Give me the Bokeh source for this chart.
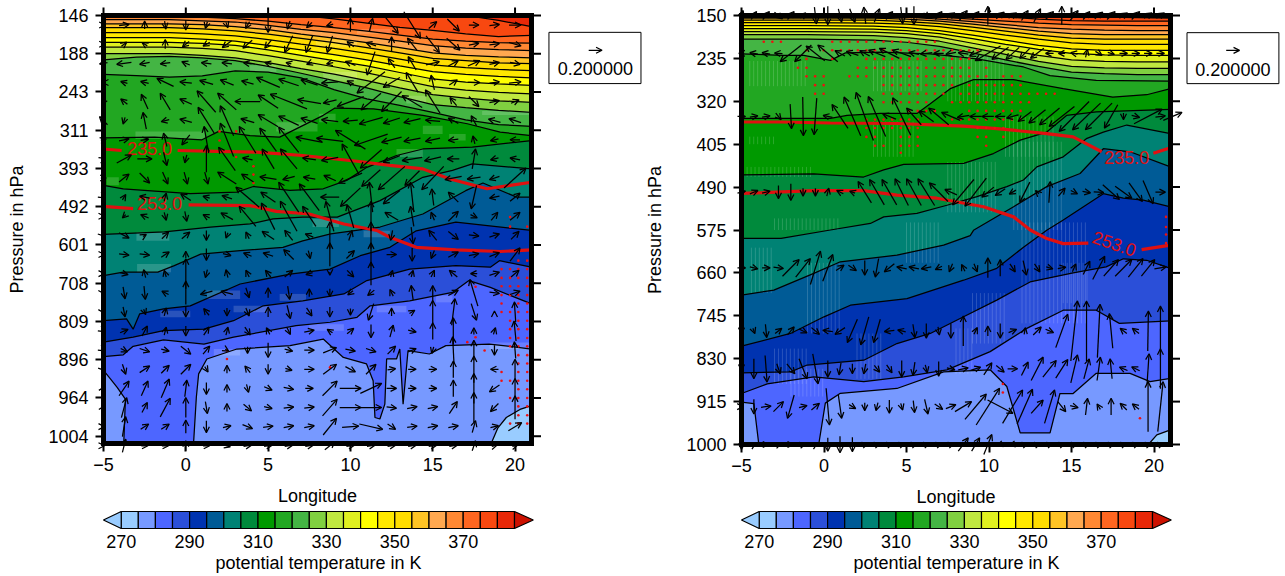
from bokeh.plotting import figure
from bokeh.models import Range1d, LinearAxis, FixedTicker, Arrow, OpenHead, ColumnDataSource
from bokeh.layouts import column, row
from bokeh.core.properties import value
from bokeh.embed import file_html
from bokeh.resources import INLINE

FONT = "Liberation Sans"

# ---------------- colour scale ----------------
THETA_LEVELS = list(range(270, 386, 5))
THETA_COLORS = ["#99CCFF", "#7799FF", "#4D66FF", "#2B4FD8", "#0033B0", "#005B96", "#008274", "#008A3C",
                "#009900", "#22A722", "#44B544", "#80D040", "#C0E840", "#E0F020", "#FFFF00", "#FFE800",
                "#FFDD00", "#FFC425", "#FFA850", "#FF8833", "#FF6620", "#F84810", "#E82808"]
LOW_COLOR = "#99CCFF"
HIGH_COLOR = "#CC1100"
CB_TICKS = [270, 290, 310, 330, 350, 370]

# ---------------- panel axes ----------------
P1_LEVELS = list(range(12))
P1_LABELS = ["146", "188", "243", "311", "393", "492", "601", "708", "809", "896", "964", "1004"]
P2_PTICKS = [150, 235, 320, 405, 490, 575, 660, 745, 830, 915, 1000]
LON_TICKS = [-5, 0, 5, 10, 15, 20]
LON_MIN, LON_MAX = -5, 21
P1_TOP, P1_BOTTOM = 0, 11.19
P2_TOP, P2_BOTTOM = 150, 1000

# ---------------- panel 1 contours ----------------
P1_LON = [-5, -3, -1, 1, 3, 5, 7, 9, 11, 13, 15, 17, 19, 21]
p1_380 = [-1, -1, -1, -1, -1, -1, -0.9, -0.7, -0.45, -0.2, -0.13, 0.0, 0.13, 0.29]
p1_375 = [-0.5, -0.5, -0.5, -0.4, -0.35, -0.25, -0.04, 0.09, 0.2, 0.31, 0.39, 0.48, 0.55, 0.52]
p1_370 = [0.03, 0.03, 0.03, 0.04, 0.08, 0.15, 0.24, 0.32, 0.41, 0.51, 0.62, 0.67, 0.71, 0.72]
p1_365 = [0.11, 0.11, 0.11, 0.14, 0.17, 0.26, 0.36, 0.45, 0.56, 0.67, 0.79, 0.85, 0.89, 0.92]
p1_360 = [0.22, 0.22, 0.22, 0.24, 0.29, 0.37, 0.49, 0.59, 0.71, 0.84, 0.98, 1.04, 1.08, 1.11]
p1_355 = [0.32, 0.32, 0.32, 0.35, 0.4, 0.49, 0.6, 0.71, 0.84, 0.98, 1.12, 1.18, 1.24, 1.26]
p1_350 = [0.45, 0.45, 0.45, 0.48, 0.53, 0.63, 0.75, 0.86, 0.99, 1.14, 1.29, 1.36, 1.41, 1.44]
p1_345 = [0.58, 0.58, 0.58, 0.62, 0.67, 0.78, 0.9, 1.02, 1.16, 1.32, 1.47, 1.54, 1.59, 1.63]
p1_340 = [0.7, 0.7, 0.7, 0.73, 0.78, 0.9, 1.04, 1.18, 1.32, 1.49, 1.66, 1.74, 1.79, 1.83]
p1_335 = [0.83, 0.83, 0.83, 0.86, 0.92, 1.05, 1.19, 1.34, 1.5, 1.68, 1.86, 1.95, 2.01, 2.05]
p1_330 = [1.0, 1.0, 1.0, 1.04, 1.11, 1.23, 1.39, 1.53, 1.7, 1.89, 2.07, 2.16, 2.23, 2.27]
p1_325 = [1.16, 1.09, 1.07, 1.11, 1.18, 1.33, 1.51, 1.7, 1.89, 2.12, 2.33, 2.41, 2.48, 2.53]
p1_320 = [1.54, 1.57, 1.61, 1.58, 1.45, 1.48, 1.63, 1.94, 2.18, 2.35, 2.53, 2.73, 2.85, 2.9]
p1_315_lon = [-5, -1.9, 0.98, 2.0, 3.9, 5.7, 7.1, 8.35, 9.06, 11.4, 14.4, 17.1, 19.1, 21]
p1_315 = [3.2, 3.18, 3.25, 3.03, 3.14, 3.18, 2.88, 2.61, 2.42, 2.44, 2.61, 2.83, 3.05, 3.14]
p1_310_lon = [-5, -3.8, 0.27, 3.1, 4.1, 6.33, 8.35, 9.77, 11, 12.8, 14.4, 17.4, 21]
p1_310 = [4.44, 4.53, 4.66, 4.62, 4.47, 4.57, 4.53, 4.31, 3.97, 3.66, 3.49, 3.44, 3.27]
p1_305_lon = [-5, -1.3, 1.5, 3.9, 5.3, 7.1, 9.2, 11.8, 14.4, 16.2, 17.4, 21]
p1_305 = [5.72, 5.66, 5.53, 5.45, 5.32, 5.27, 5.27, 4.84, 4.23, 4.05, 3.88, 4.01]
p1_300_lon = [-5, -3.8, -1.7, -0.7, 0.9, 3.3, 5.9, 7.1, 8.8, 11.8, 14.4, 17, 18.05, 20.1, 21]
p1_300 = [6.8, 6.71, 6.71, 6.54, 6.24, 6.15, 6.06, 5.89, 5.71, 5.53, 5.19, 4.58, 4.38, 4.75, 4.75]
p1_295_lon = [-5, -3.6, -3.2, -2.8, -1.35, 0.27, 3.3, 6.33, 8.76, 10.6, 12.4, 14, 16.4, 21]
p1_295 = [7.98, 7.93, 8.2, 7.8, 7.67, 7.59, 7.02, 6.76, 6.63, 6.28, 6.06, 5.63, 5.4, 5.62]
p1_290_lon = [-5, -3.2, -1.35, 1.1, 2.9, 4.7, 7.1, 9.6, 11, 13.6, 16.4, 18.5, 19.05, 21]
p1_290 = [8.54, 8.41, 8.24, 8.2, 7.98, 7.59, 7.46, 7.28, 6.93, 6.63, 6.54, 6.58, 6.41, 6.58]
p1_285_lon = [-5, -3.8, -3.2, -1.35, 1.1, 2.9, 6.7, 8.76, 10.4, 11.2, 13.6, 16.2, 17.2, 18.5, 21]
p1_285 = [8.92, 8.87, 8.65, 8.48, 8.59, 8.41, 8.11, 8.02, 7.89, 7.59, 7.46, 7.24, 6.93, 7.11, 7.54]
p1_280_lon = [0.47, 0.64, 0.78, 1.28, 3.1, 6.33, 8.35, 9.57, 10.98, 11.38, 11.49, 11.79, 12.09, 12.2,
              12.8, 13.0, 13.2, 13.5, 14.8, 15.8, 18.45, 21]
p1_280 = [11.19, 9.98, 9.37, 8.98, 8.72, 8.63, 8.46, 8.94, 9.11, 9.55, 10.51, 10.55, 10.16, 8.98,
          8.98, 8.72, 10.16, 8.76, 8.85, 8.63, 8.59, 8.72]
p1_280b_lon = [-5, -4.58, -4.17, -3.67, -3.77]
p1_280b = [9.28, 9.5, 9.72, 10.03, 11.19]
p1_275_lon = [18.55, 18.96, 19.47, 20.3, 21]
p1_275 = [11.19, 10.78, 10.51, 10.3, 10.2]

# pale blocky patches of the coarse grid, panel 1: lon start, lon end, upper level, lower level
P1_PATCHES = [(-3.06, 1.18, 3.03, 3.23), (5.5, 8, 2.79, 3.03), (8.1, 9.1, 2.57, 2.79), (12.8, 14.4, 3.49, 3.7),
              (16, 17, 3.1, 3.27), (-4.8, -4.07, 4.23, 4.44), (7.7, 9.3, 5.32, 5.53), (3.9, 5.5, 1.3, 1.48),
              (8.35, 10.4, 1.48, 1.7), (13.4, 14.6, 2.1, 2.3), (14.4, 15.6, 2.88, 3.1), (18, 20.9, 2.5, 2.6),
              (7.9, 10.4, 0.65, 0.83), (10.4, 12.4, 0.35, 0.48), (-2.96, -0.9, 6.5, 6.71), (1.28, 3.3, 7.19, 7.41),
              (5.7, 7.3, 7.28, 7.46), (-1.55, 0.27, 7.72, 7.89), (2.9, 5, 7.59, 7.76), (11.6, 13.4, 7.59, 7.76),
              (15.2, 16.2, 7.32, 7.5), (7.5, 9.6, 8.07, 8.24), (18.45, 20.9, 8.55, 8.72), (1.7, 3.3, 8.72, 8.89),
              (10.8, 12.4, 5.63, 5.8), (-3, -1, 5.67, 5.89)]

# red isentropes, panel 1
p1_r235a_lon, p1_r235a = [-5, -3.9], [3.49, 3.53]
p1_r235b_lon = [-0.5, 1.9, 4.3, 7.1, 10.4, 12.4, 14.4, 16.0, 18.3, 19.7, 21]
p1_r235b = [3.53, 3.55, 3.57, 3.66, 3.81, 3.92, 4.01, 4.27, 4.53, 4.44, 4.36]
p1_r253a_lon, p1_r253a = [-5, -3.2], [4.99, 5.05]
p1_r253b_lon = [0.17, 3.9, 5.5, 7.5, 9.6, 11.6, 12.4, 14, 16.4, 19.1, 21]
p1_r253b = [4.95, 4.97, 5.12, 5.19, 5.45, 5.62, 5.8, 6.06, 6.13, 6.17, 6.13]

# significance dots, panel 1
p1_sig_lon = [2.05, 3.06, 2.05, 3.06, 4.11, 4.11, 4.11, 19.7, 19.7, 20.74, 17.6, 17.6, 17.1, 18.15, 2.5, 2.5, 8.76]
p1_sig_lev = [3.03, 3.03, 3.27, 3.7, 3.94, 4.16, 4.38, 5.27, 5.52, 5.52, 7.09, 8.41, 8.54, 8.76, 8.76, 8.98, 9.2]
P1_SIG_COLS = [19.18, 19.7, 20.2, 20.74]
P1_SIG_ROWS = [6.41, 6.63, 6.86, 7.08, 7.31, 7.53, 7.75, 7.98, 8.2, 8.43, 8.65, 8.88, 9.1, 9.32, 9.55, 9.77, 10.0, 10.22, 10.45, 10.67]
P1_SIG_MASK = ["..XX", "XXXX", "XXXX", "XXXX", "XXXX", "X.XX", "XXXX", ".XXX", ".XXX", ".XXX", ".XXX",
               "..XX", "..XX", "X.XX", "XXXX", "..XX", ".XXX", "..XX", "..XX", ".XXX"]

# wind vectors panel 1 (hundredths of the unit; v positive up the page)
P1_VEC_LON = [-5, -3.75, -2.5, -1.25, 0, 1.25, 2.5, 3.75, 5, 6.25, 7.5, 8.75, 10, 11.25, 12.5, 13.75, 15, 16.25, 17.5, 18.75, 20]
P1_VEC_LEV = [0.25, 0.75, 1.25, 1.75, 2.25, 2.75, 3.25, 3.75, 4.25, 4.75, 5.25, 5.75, 6.25, 6.75, 7.25, 7.75, 8.25, 8.75, 9.25, 9.75, 10.25, 10.75, 11.25]
P1_U = [
 [5,15,0,2,0,-3,3,-6,0,-4,-8,-10,0,5,20,25,12,18,15,15,18],
 [5,8,-8,0,-10,-10,-14,-14,-10,-12,-10,-8,-10,-15,0,-14,20,20,15,15,18],
 [-12,-22,-15,-15,-12,-15,-15,-12,-10,-8,-8,-10,-15,-12,-10,-12,20,15,18,15,15],
 [-3,-10,-12,-25,-18,-20,-20,-18,-35,-30,-25,-25,-10,-42,-25,-18,-5,12,18,15,18],
 [-5,-10,-10,-15,-18,-28,-28,-38,-30,-55,-35,-20,-40,-30,-30,-30,-22,-10,15,15,12],
 [-12,-3,-5,-12,-18,-25,-20,-20,-30,-30,-25,-25,-22,-35,-25,-25,-22,-15,-8,-18,-18],
 [8,15,12,-5,-12,-7,-20,-25,-25,-30,-40,-40,-45,-50,-30,-25,-22,-15,-3,-12,-15],
 [5,22,22,5,-3,0,-25,-15,-18,-25,-20,-25,-25,-32,-25,-30,-25,-18,5,-12,-15],
 [8,15,15,8,5,5,-28,-18,-25,-18,-18,-18,-35,-28,-40,-22,-33,-25,-20,-15,33],
 [3,5,-15,3,-15,-10,-15,-35,-22,-30,-30,-28,-30,-5,-25,-5,-3,-15,-8,-15,15],
 [3,-5,-12,3,3,-10,-18,-25,-20,-25,-20,-12,-10,0,-20,-5,-5,15,10,10,15],
 [2,15,5,10,12,0,-3,-5,-18,-12,-12,0,5,0,-3,3,-12,15,15,15,12],
 [3,15,15,12,0,0,12,-12,-15,-15,3,0,12,0,15,0,-5,15,15,15,15],
 [3,12,-3,-3,0,-3,-3,-5,-8,12,-10,0,10,0,3,3,5,-12,-10,15,12],
 [2,3,2,-10,0,-18,-18,5,0,3,0,0,-8,-10,-5,-3,0,15,-12,15,15],
 [2,3,3,3,0,-8,0,5,0,5,8,0,0,-8,0,8,0,5,8,0,-2],
 [3,12,8,3,0,8,3,8,-5,5,15,-8,10,0,5,12,0,0,0,3,-3],
 [3,10,15,12,15,10,5,0,0,12,15,20,15,15,12,12,-3,-2,0,0,-2],
 [3,5,15,12,15,5,0,-8,0,10,15,20,15,15,12,12,12,0,0,-12,0],
 [3,15,10,12,3,0,0,3,12,15,12,22,32,32,15,12,12,0,0,-15,0],
 [3,8,8,15,0,3,0,12,12,15,15,22,32,32,15,15,15,12,0,-12,0],
 [3,5,12,12,0,0,12,15,15,15,15,20,25,35,12,15,15,15,5,12,20],
 [3,5,10,10,0,10,10,12,12,12,12,15,12,12,12,12,12,12,5,8,8],
]
P1_V = [
 [0,2,12,-12,-15,-10,-8,-10,-22,-12,-8,-3,20,20,-25,-40,10,-18,0,2,0],
 [0,6,5,14,-8,-6,-10,-12,-12,-25,-25,-25,8,5,22,18,-25,-18,3,2,-5],
 [-2,-3,-3,-2,5,2,2,2,3,2,-3,-2,6,-35,14,20,5,8,8,3,-3],
 [0,3,3,12,2,6,8,5,15,10,8,-2,5,-32,-15,30,22,8,0,2,2],
 [-10,8,22,25,8,32,25,0,20,22,6,-5,-15,-25,-30,18,35,12,-15,3,5],
 [12,-10,25,-3,5,40,45,6,18,14,8,3,-2,-10,-8,-6,2,8,15,5,6],
 [2,3,2,20,-15,40,50,40,35,38,8,5,28,-17,-8,-5,-5,-2,12,-3,0],
 [2,12,0,-20,-12,40,35,3,30,30,3,-5,45,-28,-10,-5,-6,0,30,-3,3],
 [0,12,-15,-18,-18,-18,18,12,4,-5,3,8,-15,-25,-35,-22,-35,-5,-3,-5,30],
 [-2,8,3,12,10,3,5,30,15,45,40,0,-28,45,-20,45,25,15,-35,-3,12],
 [0,-5,5,-12,-15,5,10,30,40,45,30,45,35,45,12,30,12,15,-5,12,12],
 [-2,-8,3,10,10,-15,-8,10,12,15,5,40,15,40,-15,-25,15,-12,-2,5,12],
 [0,-2,-2,8,10,-18,-3,5,5,15,-12,35,12,35,0,-20,-12,8,3,6,20],
 [0,-3,12,10,45,-12,12,10,10,10,-3,-5,-10,35,10,10,10,10,0,5,10],
 [-3,-18,-20,5,35,-5,5,-15,15,-20,12,-12,-6,-8,10,22,22,8,40,-2,5],
 [-3,-15,-8,12,-15,10,-12,-12,15,-20,-12,-15,-10,-25,12,5,35,40,-25,3,30],
 [-2,5,15,12,-15,12,12,-12,10,-10,3,5,8,-20,18,-3,25,40,10,10,30],
 [-2,-5,-5,-3,-12,12,-3,-10,-22,-3,0,8,-3,-5,12,5,-10,40,30,-15,25],
 [-3,-15,10,12,15,-8,12,10,-15,-3,0,15,-8,15,2,0,0,25,40,0,30],
 [5,22,22,28,25,-18,12,-12,-5,-3,0,22,0,15,0,0,0,25,45,-10,30],
 [5,30,15,28,30,-18,12,-10,-3,2,2,25,0,0,-2,3,3,18,45,-12,35],
 [0,30,8,8,20,-18,3,-6,2,3,3,25,2,-8,-8,2,3,3,18,3,12],
 [0,20,0,0,15,0,-3,2,2,2,2,12,2,2,2,2,2,2,15,2,2],
]

# ---------------- panel 2 contours (hPa) ----------------
P2_LON = [-5, -1, 3, 5, 7, 9, 11, 13, 15, 17, 19, 21]
p2_380 = [140, 140, 140, 140, 141, 143, 145, 148, 151, 153, 154, 155]
p2_375 = [143, 143, 144, 145, 147, 149, 153, 157, 160, 161, 161, 161]
p2_370 = [149, 149, 149, 151, 153, 157, 161, 165, 168, 169, 170, 170]
p2_365 = [151, 151, 152, 153, 157, 162, 168, 174, 177, 179, 180, 180]
p2_360 = [155, 155, 155, 157, 161, 167, 174, 181, 186, 188, 188, 188]
p2_355 = [159, 159, 159, 162, 166, 173, 181, 189, 195, 197, 197, 197]
p2_350 = [164, 164, 165, 167, 172, 180, 189, 197, 204, 207, 207, 207]
p2_345 = [170, 170, 171, 174, 180, 189, 199, 209, 216, 219, 219, 219]
p2_340 = [176, 176, 177, 180, 186, 196, 207, 217, 225, 228, 229, 229]
p2_335 = [182, 182, 183, 186, 193, 205, 217, 229, 238, 241, 242, 242]
p2_330 = [188, 188, 190, 194, 201, 214, 227, 241, 251, 254, 255, 255]
p2_325 = [197, 197, 199, 203, 211, 224, 238, 251, 262, 265, 267, 267]
p2_320_lon = [-5, -2.44, -1.23, 0.39, 1.3, 3.42, 6.44, 9.27, 12.09, 13.7, 16.5, 21]
p2_320 = [226, 229, 229, 239, 224, 222.5, 226, 236, 252, 269, 278.5, 280]
p2_315_lon = [-5, -1.63, 0.39, 1.4, 3.42, 5.63, 6.44, 7.65, 9.06, 11.47, 14.5, 17.5, 19.56, 21]
p2_315 = [354, 354, 354, 348, 344, 344, 325, 295, 277, 277, 295, 311.5, 307, 295]
p2_310_lon = [-5, -0.62, 2.4, 3.62, 4.83, 8.46, 10.27, 11.89, 13.5, 14.7, 16.5, 21]
p2_310 = [466, 464, 470, 456, 445, 443, 423.5, 397, 381, 348, 341, 336]
p2_305_lon = [-5, -2.6, 0.39, 2.81, 3.62, 5.63, 7.45, 9.27, 11.08, 12.09, 12.9, 14.5, 15.9, 16.93, 18.35, 21]
p2_305 = [591.5, 591.5, 575, 562, 549, 542, 526, 509, 489, 476, 450, 430, 394, 381, 367, 384]
p2_300_lon = [-5, -3.04, -0.62, 0.99, 4.42, 7.25, 8.86, 9.06, 11.49, 13.5, 15.52, 16.93, 18.55, 21]
p2_300 = [704, 694, 661, 638, 625, 605, 586, 575.6, 529, 489, 463, 414, 420, 450]
p2_295_lon = [-5, -2.03, 0.0, 1.6, 5.03, 8.46, 10.47, 12.09, 13.5, 14.5, 16.93, 18.14, 19.35, 21]
p2_295 = [805, 780, 747, 724, 711, 674.5, 651, 609, 575.6, 555, 503, 512, 516, 529]
p2_290_lon = [-5, -2.03, -1.02, 2.41, 4.42, 6.44, 8.46, 10.47, 12.49, 15.1, 17.1, 18.14, 19.56, 21]
p2_290 = [858, 856, 842.5, 833, 800, 780, 747, 714, 678, 660, 648, 632, 635, 651]
p2_285_lon = [-5, -3.44, -0.62, 2.41, 4.83, 7.45, 10.07, 12.29, 14.5, 16.5, 17.9, 21]
p2_285 = [899, 880, 866, 875.5, 866, 852, 816, 770, 734, 734, 760, 755]
p2_280_lon = [-0.32, 0.08, 0.99, 4.42, 7.25, 10.07, 11.08, 11.89, 13.7, 14.3, 15.1, 16.5, 18.55, 19.76, 21]
p2_280 = [1000, 918, 898.6, 889, 856, 852, 885, 977, 977, 899, 899, 859, 859, 875.5, 869]
p2_280b_lon = [-5, -4.25, -3.95]
p2_280b = [916, 919, 1000]
p2_275_lon = [19.66, 20.17, 21]
p2_275 = [1000, 981, 971]

p2_r235a_lon = [-5, -2.64, 0.39, 4.42, 8.46, 10.47, 13.5, 15.1, 16.83]
p2_r235a = [361, 361, 363, 364, 369, 374, 384, 390.5, 420]
p2_r235b_lon, p2_r235b = [19.96, 21], [423, 412]
p2_r253a_lon = [-5, -3.65, -0.62, 2.4, 4.42, 6.84, 9.67, 11.49, 12.5, 13.5, 14.5, 16.02]
p2_r253a = [502.6, 501, 497, 497, 506, 512, 529, 549, 575, 592, 602, 601]
p2_r253b_lon, p2_r253b = [19.25, 21], [614, 605]

P2_SIG_LON = [-3.65, -3.13, -2.61, -2.09, -1.58, -1.06, -0.54, -0.02, 0.5, 1.02, 1.54, 2.05, 2.57, 3.09, 3.61, 4.13,
              4.65, 5.17, 5.68, 6.2, 6.72, 7.24, 7.76, 8.28, 8.8, 9.31, 9.83, 10.35, 10.87, 11.39, 11.91, 12.43,
              12.94, 13.46, 13.98]
P2_SIG_P = [202, 219, 236, 253.5, 270.6, 288, 305, 322, 339, 356, 373, 390.5, 408, 422]
P2_SIG_MASK = [
 "XXX.....XXXXXXXXXXXXX..............",
 ".....X.XXXXXXXXXXXXXXXXXXX.........",
 ".....X..X...XXXXXXXXXXXXX..........",
 "....XX.....XXXXXXXXXXXXXX.X........",
 ".....XXX..XXX.XXXXXXXXXXXXX.XXX....",
 "......XX......XXXXXXXXX.XXXXXXX....",
 "......XX......XXXXXXXX.XXXXXXXXXXXX",
 "..............XXXXXX..XXXXXXXXXX...",
 ".................XXXX...XXXXXXX....",
 "............XXXXXXX...XXXXXXXXX....",
 "............XXXXXXX......XXXX......",
 "............XX..XXX......XX.X......",
 ".............XX.XXX.......X........",
 "................X..................",
]
p2_sig_lon = [10.84, 10.84, 19.15, 20.73, 20.73, 20.73, 20.73]
p2_sig_p = [880, 897, 948, 549, 569, 584, 601]

# pale vertical striping seen in panel 2: lon start, lon end, top hPa, bottom hPa
P2_STRIPES = [(-4.9, -0.8, 450, 470), (-4.5, -3, 390, 405), (-3, 1, 552, 575), (-4.4, -3, 610, 700), (-1, 1, 640, 780),
              (2, 3.5, 780, 870), (-2, 0, 850, 905), (5, 7, 560, 640), (7.5, 10.5, 440, 540), (11.5, 14.5, 400, 575),
              (12, 16, 560, 760), (14.5, 16, 640, 720), (9, 11, 700, 800), (8, 9, 770, 860), (3, 6, 240, 300),
              (7.5, 11, 230, 320), (11, 14, 350, 430), (-4.5, -1, 240, 290), (3, 5.5, 360, 430), (-3, -1, 810, 880)]
STRIPE_STEP = 0.24

P2_VEC_LON = [-5.0, -4.25, -3.51, -2.76, -2.01, -1.27, -0.52, 0.23, 0.97, 1.72, 2.47, 3.21, 3.96, 4.71, 5.45, 6.2, 6.95,
              7.69, 8.44, 9.19, 9.93, 10.68, 11.43, 12.17, 12.92, 13.67, 14.41, 15.16, 15.91, 16.65, 17.4, 18.15,
              18.89, 19.64, 20.39, 21.13]
P2_VEC_P = [150, 225, 350, 500, 650, 775, 850, 925, 1000]
P2_U = [
 [5,8,10,12,10,8,3,0,5,8,-3,8,10,3,0,8,10,12,12,10,0,12,12,10,10,12,0,12,10,12,12,12,12,12,12],
 [-8,-12,-12,-12,-32,-25,-28,-30,-15,-18,-15,-25,-30,-28,-15,-18,-15,-15,-15,-18,-38,-25,-20,-15,-20,-12,-10,-10,3,10,10,12,12,12,12],
 [12,12,12,8,2,1,-4,-14,-24,-25,-26,-26,-20,-27,-22,-22,-30,-28,-18,-18,-18,-15,-18,-20,-25,-30,-38,-45,-42,-40,-20,0,12,42,15,28],
 [12,12,12,0,0,0,0,3,-10,-8,-20,-22,-22,-20,-22,-25,-28,-18,-32,-32,-18,-15,-10,-15,-5,2,10,10,12,15,25,25,20,15,15],
 [12,12,12,15,25,22,15,15,12,12,0,-5,-15,-15,-15,-15,-10,-5,-5,5,0,0,8,5,8,10,12,5,10,18,22,25,22,20,18],
 [0,3,2,10,10,12,12,-15,-15,-15,-12,-10,-15,-12,3,0,2,0,0,5,0,0,12,2,12,12,18,10,0,4,-5,-10,-10,1,0],
 [0,0,3,5,12,12,8,0,-3,0,-3,8,8,0,-3,3,0,12,15,15,12,12,15,10,18,20,18,10,8,5,-3,-12,-12,3,0],
 [5,0,15,15,-10,12,12,5,5,10,0,-3,0,3,2,5,12,15,25,32,35,38,30,23,18,15,12,12,3,-5,0,-10,-10,0,8],
 [0,5,8,8,8,8,5,0,0,0,10,10,10,10,10,10,10,10,15,12,12,-10,-10,10,10,10,10,10,10,10,10,10,10,10,10],
]
P2_V = [
 [15,12,12,-10,12,8,-25,-28,-20,-20,25,20,12,-25,-28,-8,12,8,15,12,28,10,8,15,20,12,28,15,12,10,12,8,12,8,8],
 [0,2,2,1,-25,-25,22,25,8,6,8,10,15,10,3,-2,0,-3,2,-8,-22,-18,-18,-15,-15,0,0,2,12,-6,-3,0,0,0,0],
 [0,2,2,-10,-37,-58,-55,3,36,58,72,60,8,56,25,16,25,12,-3,0,0,0,-5,-15,-20,-25,-30,-45,-40,-40,-35,-10,-3,22,2,12],
 [3,5,3,-20,-25,-12,-12,12,5,3,32,38,38,40,40,40,28,8,-38,-42,-15,-10,-6,-30,5,32,12,-5,-2,-1,-22,-18,-28,-35,0],
 [0,-3,0,-2,25,28,50,40,8,-8,-22,-28,-12,3,3,-3,-5,-12,10,-12,30,25,-12,-22,-12,-3,2,12,20,35,25,25,28,25,3],
 [-8,-8,-20,8,12,-6,-10,2,-10,-35,-42,-35,-2,3,-20,-22,-12,-22,45,10,15,-22,5,10,12,-5,50,90,90,80,52,8,8,60,75],
 [-5,-30,-40,-15,-15,-30,-45,-25,-18,-15,-15,-10,-12,-25,-20,-12,-22,-3,3,5,18,-10,0,20,35,25,28,42,30,35,30,5,6,45,60],
 [0,-22,2,15,-35,3,10,-55,-35,-6,-12,-12,-20,-10,-18,-22,-8,6,15,38,55,-20,50,52,20,50,-15,-3,25,8,25,10,8,75,75],
 [-15,3,0,3,0,2,3,-20,-25,-22,3,3,3,3,3,3,3,3,20,20,30,-3,-2,3,3,3,3,3,3,3,3,3,3,3,3],
]

REF_VECTOR = 20          # the 0.200000 reference arrow, same units as U/V
REF_LABEL = "0.200000"
PX_PER_UNIT = 0.667      # arrow pixels per vector unit

# canvas geometry, pixels in the photographed picture
P1_CANVAS = (0, 646)
P2_CANVAS = (646, 1281)
MAIN_TOP, MAIN_BOTTOM = 0, 508
CB_BOTTOM = 574
P1_FRAME = (103, 531, 15, 443)
P2_FRAME = (741, 1170, 15, 444)


def band_color(theta):
    return THETA_COLORS[THETA_LEVELS.index(theta - 5)]


def make_panel(canvas, frame, ytop, ybottom, yticks, ylabels=None):
    """Figure whose frame fills the canvas, so that nothing outside the box is clipped; the axes sit at fixed places."""
    fl, fr, ft, fb = frame
    px_x = (fr - fl) / (LON_MAX - LON_MIN)
    px_y = (fb - ft) / (ybottom - ytop)
    x_range = Range1d(LON_MIN - (fl - canvas[0]) / px_x, LON_MIN + (canvas[1] - fl) / px_x)
    y_range = Range1d(ytop + (MAIN_BOTTOM - ft) / px_y, ytop - (ft - MAIN_TOP) / px_y)
    p = figure(width=canvas[1] - canvas[0], height=MAIN_BOTTOM - MAIN_TOP, output_backend="svg",
               toolbar_location=None, x_range=x_range, y_range=y_range, x_axis_location=None, y_axis_location=None,
               min_border=0, min_border_left=0, min_border_right=0, min_border_top=0, min_border_bottom=0)
    p.outline_line_color = None
    p.grid.visible = False
    bottom = LinearAxis(ticker=FixedTicker(ticks=LON_TICKS), fixed_location=ybottom, bounds=(LON_MIN, LON_MAX))
    left = LinearAxis(ticker=FixedTicker(ticks=yticks), fixed_location=LON_MIN, bounds=(min(ytop, ybottom), max(ytop, ybottom)))
    if ylabels:
        left.major_label_overrides = dict(zip(yticks, ylabels))
    for ax in (bottom, left):
        ax.axis_line_color = "black"
        ax.axis_line_width = 2
        ax.major_tick_line_color = "black"
        ax.major_tick_line_width = 2
        ax.major_tick_out = 8
        ax.major_tick_in = 0
        ax.minor_tick_line_color = None
        ax.major_label_text_font = FONT
        ax.major_label_text_font_size = "18px"
        ax.major_label_text_color = "black"
        ax.axis_label_text_font = FONT
        ax.axis_label_text_font_size = "18px"
        ax.axis_label_text_font_style = "normal"
        ax.axis_label_text_color = "black"
    bottom.axis_label = "Longitude"
    left.axis_label = "Pressure in hPa"
    bottom.major_label_standoff = 6
    bottom.axis_label_standoff = 12
    left.major_label_standoff = 7
    left.axis_label_standoff = 18
    p.add_layout(bottom, "below")
    p.add_layout(left, "left")
    p._px = (px_x, px_y)
    p._bounds = (ytop, ybottom)
    p.quad(left=LON_MIN, right=LON_MAX, top=ytop, bottom=ybottom, fill_color=THETA_COLORS[-1], line_color=None)
    return p


def finish_box(p, yticks):
    """The thick box and its top and right ticks."""
    ytop, ybottom = p._bounds
    px_x, px_y = p._px
    p.segment(x0=LON_TICKS, x1=LON_TICKS, y0=[ytop] * len(LON_TICKS), y1=[ytop - 8 / px_y] * len(LON_TICKS),
              line_color="black", line_width=2)
    p.segment(x0=[LON_MAX] * len(yticks), x1=[LON_MAX + 9.5 / px_x] * len(yticks), y0=yticks, y1=yticks,
              line_color="black", line_width=2)
    p.quad(left=LON_MIN, right=LON_MAX, top=ytop, bottom=ybottom, fill_color=None, line_color="black", line_width=5,
           line_join="miter")


def clip_y(p, y):
    ytop, ybottom = p._bounds
    return [min(max(v, ytop), ybottom) for v in y]


def fill_below(p, x, y, color):
    ybottom = p._bounds[1]
    p.patch(list(x) + [x[-1], x[0]], clip_y(p, y) + [ybottom, ybottom], fill_color=color, line_color=None)


def add_sig(p, xs, ys):
    p.scatter(xs, ys, size=2.6, marker="circle", fill_color="#EE1111", line_color=None)


def vectors(p, lons, rows, U, V):
    sx, sy = PX_PER_UNIT / p._px[0], PX_PER_UNIT / p._px[1]
    x0, y0, x1, y1 = [], [], [], []
    for r, us, vs in zip(rows, U, V):
        for lon, u, v in zip(lons, us, vs):
            if u == 0 and v == 0:
                continue
            dx, dy = u * sx / 2, v * sy / 2
            x0.append(lon - dx); x1.append(lon + dx)
            y0.append(r + dy); y1.append(r - dy)
    p.add_layout(Arrow(source=ColumnDataSource(dict(x0=x0, y0=y0, x1=x1, y1=y1)),
                       x_start="x0", y_start="y0", x_end="x1", y_end="y1",
                       line_color="black", line_width=1.25,
                       end=OpenHead(size=6, line_color="black", line_width=1.25)))


def legend(p, l, r, t, b, xc, yarr, ytext):
    p.quad(left=l, right=r, top=t, bottom=b, fill_color="white", line_color="black", line_width=1)
    d = REF_VECTOR * PX_PER_UNIT / p._px[0] / 2
    p.add_layout(Arrow(x_start=xc - d, y_start=yarr, x_end=xc + d, y_end=yarr, line_color="black", line_width=1.25,
                       end=OpenHead(size=6, line_color="black", line_width=1.25)))
    p.text([xc], [ytext], text=[REF_LABEL], text_font=value(FONT), text_font_size="18px", text_align="center",
           text_baseline="middle", text_color="black")


def red_label(p, x, y, s, angle=0):
    p.text([x], [y], text=[s], text_font=value(FONT), text_font_size="18px", text_color="#E01010",
           text_align="center", text_baseline="middle", angle=angle)


# ------------------------------ panel 1 ------------------------------
p1 = make_panel(P1_CANVAS, P1_FRAME, P1_TOP, P1_BOTTOM, P1_LEVELS, P1_LABELS)
p1_lines = [
    (380, P1_LON, p1_380), (375, P1_LON, p1_375), (370, P1_LON, p1_370), (365, P1_LON, p1_365),
    (360, P1_LON, p1_360), (355, P1_LON, p1_355), (350, P1_LON, p1_350), (345, P1_LON, p1_345),
    (340, P1_LON, p1_340), (335, P1_LON, p1_335), (330, P1_LON, p1_330), (325, P1_LON, p1_325),
    (320, P1_LON, p1_320), (315, p1_315_lon, p1_315), (310, p1_310_lon, p1_310), (305, p1_305_lon, p1_305),
    (300, p1_300_lon, p1_300), (295, p1_295_lon, p1_295), (290, p1_290_lon, p1_290), (285, p1_285_lon, p1_285),
    (280, p1_280_lon, p1_280), (275, p1_275_lon, p1_275)]
for th, x, y in p1_lines:
    fill_below(p1, x, y, band_color(th))
fill_below(p1, [-5] + p1_280b_lon, [p1_280b[0]] + p1_280b, band_color(280))
p1.quad(left=[r[0] for r in P1_PATCHES], right=[r[1] for r in P1_PATCHES], top=[r[2] for r in P1_PATCHES],
        bottom=[r[3] for r in P1_PATCHES], fill_color="white", fill_alpha=0.16, line_color=None)
for th, x, y in p1_lines:
    p1.line(x, clip_y(p1, y), line_color="black", line_width=1.25)
p1.line(p1_280b_lon, p1_280b, line_color="black", line_width=1.25)
for x, y in ((p1_r235a_lon, p1_r235a), (p1_r235b_lon, p1_r235b), (p1_r253a_lon, p1_r253a), (p1_r253b_lon, p1_r253b)):
    p1.line(x, y, line_color="#E01010", line_width=3.2)
red_label(p1, -2.2, 3.47, "235.0")
red_label(p1, -1.6, 4.92, "253.0")
sx, sy = [], []
for lev, mask in zip(P1_SIG_ROWS, P1_SIG_MASK):
    for lon, c in zip(P1_SIG_COLS, mask):
        if c == "X":
            sx.append(lon); sy.append(lev)
add_sig(p1, sx + p1_sig_lon, sy + p1_sig_lev)
finish_box(p1, P1_LEVELS)
vectors(p1, P1_VEC_LON, P1_VEC_LEV, P1_U, P1_V)
legend(p1, 22.06, 27.65, 0.44, 1.78, 24.88, 0.91, 1.39)

# ------------------------------ panel 2 ------------------------------
p2 = make_panel(P2_CANVAS, P2_FRAME, P2_TOP, P2_BOTTOM, P2_PTICKS)
p2_lines = [
    (380, P2_LON, p2_380), (375, P2_LON, p2_375), (370, P2_LON, p2_370), (365, P2_LON, p2_365),
    (360, P2_LON, p2_360), (355, P2_LON, p2_355), (350, P2_LON, p2_350), (345, P2_LON, p2_345),
    (340, P2_LON, p2_340), (335, P2_LON, p2_335), (330, P2_LON, p2_330), (325, P2_LON, p2_325),
    (320, p2_320_lon, p2_320), (315, p2_315_lon, p2_315), (310, p2_310_lon, p2_310), (305, p2_305_lon, p2_305),
    (300, p2_300_lon, p2_300), (295, p2_295_lon, p2_295), (290, p2_290_lon, p2_290), (285, p2_285_lon, p2_285),
    (280, p2_280_lon, p2_280), (275, p2_275_lon, p2_275)]
for th, x, y in p2_lines:
    fill_below(p2, x, y, band_color(th))
fill_below(p2, [-5] + p2_280b_lon, [p2_280b[0]] + p2_280b, band_color(280))
st_x, st_t, st_b = [], [], []
for lon0, lon1, pt, pb in P2_STRIPES:
    lon = lon0
    while lon < lon1:
        st_x.append(lon); st_t.append(pt); st_b.append(pb)
        lon += STRIPE_STEP
p2.segment(x0=st_x, x1=st_x, y0=st_t, y1=st_b, line_color="white", line_alpha=0.16, line_width=1)
for th, x, y in p2_lines:
    p2.line(x, clip_y(p2, y), line_color="black", line_width=1.25)
p2.line(p2_280b_lon, p2_280b, line_color="black", line_width=1.25)
for x, y in ((p2_r235a_lon, p2_r235a), (p2_r235b_lon, p2_r235b), (p2_r253a_lon, p2_r253a), (p2_r253b_lon, p2_r253b)):
    p2.line(x, y, line_color="#E01010", line_width=3.2)
red_label(p2, 18.35, 431, "235.0")
red_label(p2, 17.6, 602, "253.0", angle=-0.33)
sx, sy = [], []
for pr, mask in zip(P2_SIG_P, P2_SIG_MASK):
    for lon, c in zip(P2_SIG_LON, mask):
        if c == "X":
            sx.append(lon); sy.append(pr)
add_sig(p2, sx + p2_sig_lon, sy + p2_sig_p)
finish_box(p2, P2_PTICKS)
vectors(p2, P2_VEC_LON, P2_VEC_P, P2_U, P2_V)
legend(p2, 22.0, 27.57, 184, 285, 24.78, 219, 257)


# ------------------------------ colour bars ------------------------------
def colorbar(canvas, k270_px):
    px_k = 3.42
    bar_top, bar_bottom = 511, 528
    c = figure(width=canvas[1] - canvas[0], height=CB_BOTTOM - MAIN_BOTTOM, output_backend="svg", toolbar_location=None,
               x_range=Range1d(270 - (k270_px - canvas[0]) / px_k, 270 + (canvas[1] - k270_px) / px_k),
               y_range=Range1d(-(CB_BOTTOM - bar_bottom) / (bar_bottom - bar_top), 1 + (bar_top - MAIN_BOTTOM) / (bar_bottom - bar_top)),
               x_axis_location=None, y_axis_location=None, min_border=0, min_border_left=0, min_border_right=0,
               min_border_top=0, min_border_bottom=0)
    c.outline_line_color = None
    c.grid.visible = False
    ax = LinearAxis(ticker=FixedTicker(ticks=CB_TICKS), fixed_location=0, bounds=(270, 385.4))
    ax.axis_line_color = None
    ax.major_tick_line_color = None
    ax.minor_tick_line_color = None
    ax.major_tick_out = 0
    ax.major_label_standoff = 6
    ax.major_label_text_font = FONT
    ax.major_label_text_font_size = "18px"
    ax.major_label_text_color = "black"
    ax.axis_label = "potential temperature in K"
    ax.axis_label_text_font = FONT
    ax.axis_label_text_font_size = "18px"
    ax.axis_label_text_font_style = "normal"
    ax.axis_label_text_color = "black"
    ax.axis_label_standoff = 2
    c.add_layout(ax, "below")
    c.quad(left=THETA_LEVELS[:-1], right=THETA_LEVELS[1:], bottom=0, top=1, fill_color=THETA_COLORS,
           line_color="black", line_width=1.2)
    c.patch([270, 264.8, 270, 270], [0, 0.5, 1, 0], fill_color=LOW_COLOR, line_color="black", line_width=1.2)
    c.patch([385, 390.5, 385, 385], [0, 0.5, 1, 0], fill_color=HIGH_COLOR, line_color="black", line_width=1.2)
    return c


c1 = colorbar(P1_CANVAS, 120.7)
c2 = colorbar(P2_CANVAS, 758.7)

page = column(row(p1, p2), row(c1, c2))
open("out.html", "w").write(file_html(page, INLINE))
